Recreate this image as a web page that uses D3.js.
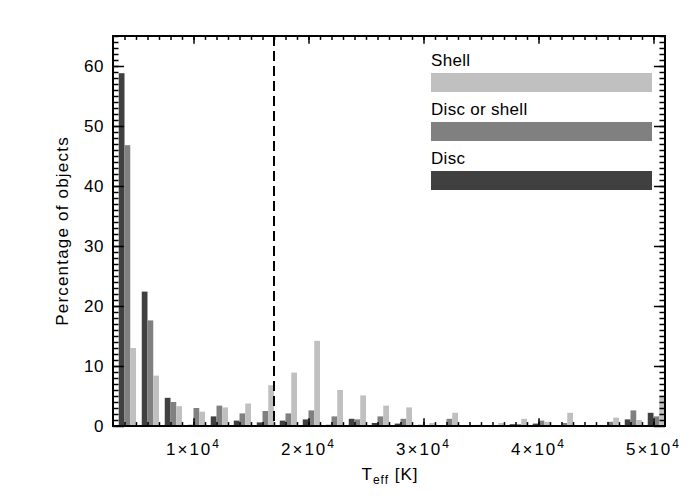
<!DOCTYPE html>
<html>
<head>
<meta charset="utf-8">
<script src="https://cdn.jsdelivr.net/npm/d3@7"></script>
<style>
  body { margin: 0; background: #fff; }
  text { font-family: "Liberation Sans", Arial, sans-serif; fill: #000; }
</style>
</head>
<body>
<div id="chart"></div>
<script>
// bin lower edges in K (2000 K wide bins)
var binStarts = [3000, 5000, 7000, 9000, 11000, 13000, 15000, 17000, 19000, 21000, 23000, 25000,
                 27000, 29000, 31000, 33000, 35000, 37000, 39000, 41000, 43000, 45000, 47000, 49000];
var disc = [58.8, 22.4, 4.7, 0.2, 1.6, 0.9, 0.6, 0.9, 1.1, 0.2, 1.2, 0.5,
            0.4, 0.2, 0, 0, 0, 0.3, 0.4, 0.1, 0, 0, 1.1, 2.2];
var discOrShell = [46.8, 17.6, 4.0, 3.0, 3.4, 2.1, 2.5, 2.1, 2.6, 1.6, 1.1, 1.6,
                   1.2, 0, 1.2, 0, 0, 0.3, 0.9, 0.5, 0, 0.7, 2.6, 1.6];
var shell = [13.0, 8.4, 3.3, 2.4, 3.1, 3.75, 6.8, 8.9, 14.2, 6.0, 5.1, 3.4,
             3.1, 0.5, 2.2, 0.2, 0.5, 1.2, 0.7, 2.2, 0, 1.4, 1.0, 5.1];
var seriesNames = ["Disc", "Disc or shell", "Shell"];
var seriesColors = ["#404040", "#808080", "#c0c0c0"];
var xMajorTicks = [10000, 20000, 30000, 40000, 50000];
var xTickMantissa = ["1", "2", "3", "4", "5"];
var yMajorTicks = [0, 10, 20, 30, 40, 50, 60];
var binWidth = 2000;
var boundaryTeff = 17000;

var width = 700, height = 500;
var margin = {top: 36, right: 35, bottom: 74, left: 113};

var svg = d3.select("#chart").append("svg")
    .attr("width", width)
    .attr("height", height);

var x = d3.scaleLinear().domain([3000, 51000]).range([margin.left, width - margin.right]);
var y = d3.scaleLinear().domain([0, 65]).range([height - margin.bottom, margin.top]);

// bars: each series takes a quarter of the bin, right-aligned
var allSeries = [disc, discOrShell, shell];
allSeries.forEach(function (vals, k) {
    svg.append("g").selectAll("rect")
        .data(vals)
        .enter().append("rect")
        .attr("x", function (d, i) { return x(binStarts[i] + binWidth / 4 * (k + 1)); })
        .attr("width", function (d, i) { return x(binStarts[i] + binWidth / 4 * (k + 2)) - x(binStarts[i] + binWidth / 4 * (k + 1)); })
        .attr("y", function (d) { return y(d); })
        .attr("height", function (d) { return y(0) - y(d); })
        .attr("fill", seriesColors[k]);
});

// dashed boundary line
svg.append("line")
    .attr("x1", x(boundaryTeff)).attr("x2", x(boundaryTeff))
    .attr("y1", y.range()[1]).attr("y2", y.range()[0])
    .attr("stroke", "#000").attr("stroke-width", 2)
    .attr("stroke-dasharray", "10,5");

// axes (inward ticks on all four sides)
var plotH = y.range()[0] - y.range()[1];
var plotW = x.range()[1] - x.range()[0];
var xMinor = d3.range(4000, 51000, 1000);
var yMinor = d3.range(1, 66, 1);

function styleAxis(g) {
    g.select(".domain").remove();
    g.selectAll("line").attr("stroke", "#000").attr("stroke-width", 1.5);
    g.selectAll("text").remove();
}

svg.append("g").attr("transform", "translate(0," + y.range()[0] + ")")
    .call(d3.axisBottom(x).tickValues(xMinor).tickSize(-plotH * 0.01)).call(styleAxis);
svg.append("g").attr("transform", "translate(0," + y.range()[0] + ")")
    .call(d3.axisBottom(x).tickValues(xMajorTicks).tickSize(-plotH * 0.02)).call(styleAxis);
svg.append("g").attr("transform", "translate(0," + y.range()[1] + ")")
    .call(d3.axisTop(x).tickValues(xMinor).tickSize(-plotH * 0.01)).call(styleAxis);
svg.append("g").attr("transform", "translate(0," + y.range()[1] + ")")
    .call(d3.axisTop(x).tickValues(xMajorTicks).tickSize(-plotH * 0.02)).call(styleAxis);

svg.append("g").attr("transform", "translate(" + x.range()[0] + ",0)")
    .call(d3.axisLeft(y).tickValues(yMinor).tickSize(-plotW * 0.01)).call(styleAxis);
svg.append("g").attr("transform", "translate(" + x.range()[0] + ",0)")
    .call(d3.axisLeft(y).tickValues(yMajorTicks).tickSize(-plotW * 0.02)).call(styleAxis);
svg.append("g").attr("transform", "translate(" + x.range()[1] + ",0)")
    .call(d3.axisRight(y).tickValues(yMinor).tickSize(-plotW * 0.01)).call(styleAxis);
svg.append("g").attr("transform", "translate(" + x.range()[1] + ",0)")
    .call(d3.axisRight(y).tickValues(yMajorTicks).tickSize(-plotW * 0.02)).call(styleAxis);

// frame
svg.append("rect")
    .attr("x", x.range()[0]).attr("y", y.range()[1])
    .attr("width", plotW).attr("height", plotH)
    .attr("fill", "none").attr("stroke", "#000").attr("stroke-width", 2);

// y tick labels
svg.append("g").selectAll("text")
    .data(yMajorTicks)
    .enter().append("text")
    .attr("x", x.range()[0] - 9)
    .attr("y", function (d) { return y(d); })
    .attr("dy", "0.36em")
    .attr("text-anchor", "end")
    .style("font-size", "17px")
    .style("letter-spacing", "0.5px")
    .text(function (d) { return d; });

// x tick labels like 1x10^4
var xl = svg.append("g").selectAll("text")
    .data(xMajorTicks)
    .enter().append("text")
    .attr("x", function (d) { return x(d); })
    .attr("y", y.range()[0] + 29)
    .attr("text-anchor", "middle")
    .style("font-size", "17px")
    .style("letter-spacing", "2px");
xl.append("tspan").text(function (d, i) { return xTickMantissa[i] + "\u00d710"; });
xl.append("tspan").attr("dy", -7).style("font-size", "12px").text("4");

// axis titles
var xt = svg.append("text")
    .attr("x", 390).attr("y", y.range()[0] + 34 + 20)
    .attr("text-anchor", "middle")
    .style("font-size", "17px")
    .style("letter-spacing", "1px");
xt.append("tspan").text("T");
xt.append("tspan").attr("dy", 4).style("font-size", "12px").text("eff");
xt.append("tspan").attr("dy", -4).text(" [K]");

svg.append("text")
    .attr("transform", "translate(68," + (y.range()[0] + y.range()[1]) / 2 + ") rotate(-90)")
    .attr("text-anchor", "middle")
    .style("font-size", "17px")
    .style("letter-spacing", "1.2px")
    .text("Percentage of objects");

// legend (top to bottom: Shell, Disc or shell, Disc)
var legendOrder = [2, 1, 0];
var lg = svg.append("g").selectAll("g")
    .data(legendOrder)
    .enter().append("g")
    .attr("transform", function (d, i) { return "translate(431," + (53 + i * 49) + ")"; });
lg.append("text")
    .attr("x", 0).attr("y", 13)
    .style("font-size", "17px")
    .style("letter-spacing", "0.3px")
    .text(function (d) { return seriesNames[d]; });
lg.append("rect")
    .attr("x", 0).attr("y", 20)
    .attr("width", 221).attr("height", 19)
    .attr("fill", function (d) { return seriesColors[d]; });
</script>
</body>
</html>
